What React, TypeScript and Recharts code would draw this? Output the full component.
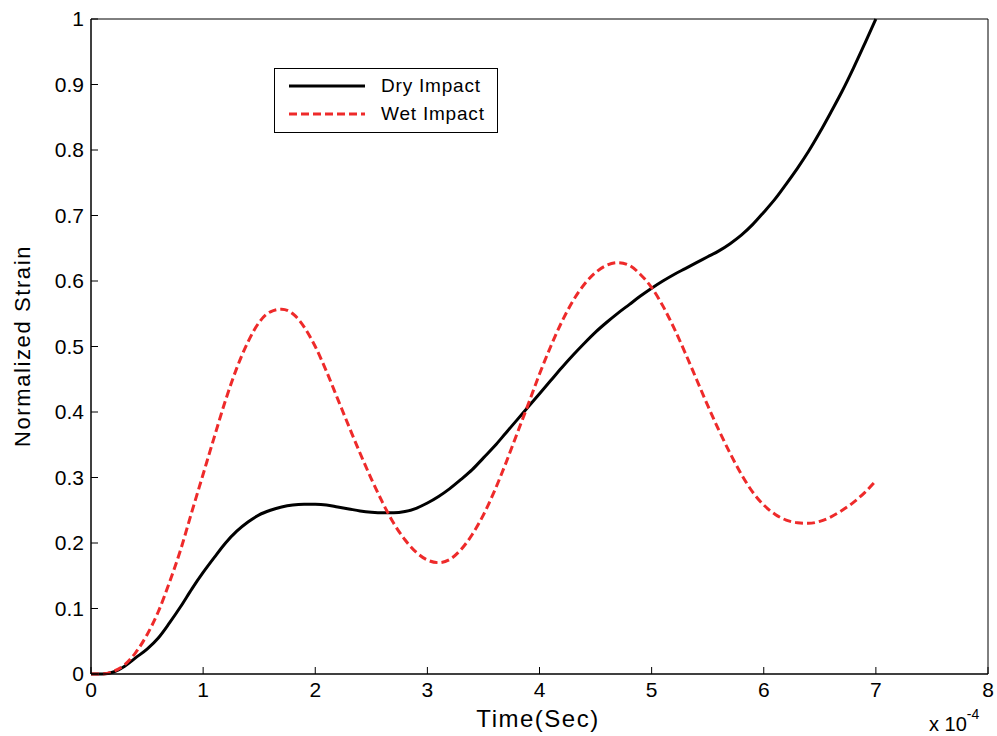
import React from 'react';
import { LineChart, Line, XAxis, YAxis } from 'recharts';

const timeSteps = [
  0, 0.1, 0.2, 0.3, 0.4, 0.5, 0.6, 0.7, 0.8, 0.9,
  1, 1.1, 1.2, 1.3, 1.4, 1.5, 1.6, 1.7, 1.8, 1.9,
  2, 2.1, 2.2, 2.3, 2.4, 2.5, 2.6, 2.7, 2.8, 2.9,
  3, 3.1, 3.2, 3.3, 3.4, 3.5, 3.6, 3.7, 3.8, 3.9,
  4, 4.1, 4.2, 4.3, 4.4, 4.5, 4.6, 4.7, 4.8, 4.9,
  5, 5.1, 5.2, 5.3, 5.4, 5.5, 5.6, 5.7, 5.8, 5.9,
  6, 6.1, 6.2, 6.3, 6.4, 6.5, 6.6, 6.7, 6.8, 6.9,
  7,
];

const dryImpact = [
  0, 0, 0.003, 0.012, 0.025, 0.038, 0.055, 0.078, 0.103, 0.13,
  0.155, 0.178, 0.2, 0.218, 0.232, 0.243, 0.25, 0.255, 0.258, 0.259,
  0.259, 0.258, 0.255, 0.252, 0.249, 0.247, 0.246, 0.246, 0.248, 0.253,
  0.261, 0.271, 0.283, 0.297, 0.312, 0.33, 0.348, 0.368, 0.388, 0.408,
  0.428, 0.448, 0.468, 0.487, 0.505, 0.522, 0.537, 0.551, 0.564, 0.577,
  0.589, 0.6, 0.61, 0.619, 0.628, 0.637, 0.646, 0.657, 0.67, 0.686,
  0.705, 0.725, 0.748, 0.772, 0.798, 0.827, 0.858, 0.89, 0.925, 0.962,
  1.0,
];

const wetImpact = [
  0, 0, 0.004, 0.014, 0.033, 0.06, 0.095, 0.14, 0.19, 0.248,
  0.305, 0.362, 0.418, 0.467, 0.507, 0.537, 0.553, 0.557, 0.55, 0.53,
  0.5, 0.462, 0.42, 0.378, 0.337, 0.298, 0.262, 0.23, 0.205, 0.186,
  0.174, 0.17, 0.175, 0.19, 0.213, 0.243, 0.28, 0.322, 0.367, 0.412,
  0.458, 0.5, 0.538, 0.57, 0.595, 0.613, 0.624, 0.628, 0.624, 0.61,
  0.59, 0.562, 0.528, 0.49, 0.45, 0.41, 0.372, 0.337, 0.305, 0.278,
  0.258, 0.244, 0.235, 0.231, 0.23, 0.233, 0.24, 0.25, 0.262, 0.277,
  0.295,
];

const xTicks = [0, 1, 2, 3, 4, 5, 6, 7, 8];
const yTicks = [0, 0.1, 0.2, 0.3, 0.4, 0.5, 0.6, 0.7, 0.8, 0.9, 1];

const data = timeSteps.map((t, i) => ({ t, dry: dryImpact[i], wet: wetImpact[i] }));

const FONT = '"Liberation Sans", Arial, sans-serif';
const RED = '#ee2a2a';

const fmt = (v: number) => String(Math.round(v * 10) / 10);

const legendItems = [
  { name: 'Dry Impact', color: '#000', dash: undefined as string | undefined },
  { name: 'Wet Impact', color: RED, dash: '8 4' },
];

const LegendBox = () => (
  <div
    style={{
      position: 'absolute',
      left: 274,
      top: 68,
      width: 224,
      height: 65,
      border: '1px solid #000',
      background: '#fff',
      boxSizing: 'border-box',
      fontFamily: FONT,
      fontSize: 19,
      letterSpacing: 0.8,
      color: '#000',
      paddingTop: 3,
    }}
  >
    {legendItems.map((item) => (
      <div key={item.name} style={{ display: 'flex', alignItems: 'center', height: 28 }}>
        <svg width={92} height={10} style={{ marginLeft: 14 }}>
          <line x1={0} y1={5} x2={76} y2={5} stroke={item.color} strokeWidth={3} strokeDasharray={item.dash} />
        </svg>
        <span>{item.name}</span>
      </div>
    ))}
  </div>
);

const tickStyle = { fill: '#000', fontSize: 21, fontFamily: FONT };

export default function App() {
  return (
    <div style={{ position: 'absolute', left: 0, top: 0, width: 997, height: 736, background: '#fff' }}>
      <LineChart
        width={997}
        height={736}
        data={data}
        margin={{ top: 18, right: 8, bottom: 32, left: 31 }}
      >
        <XAxis
          dataKey="t"
          type="number"
          domain={[0, 8]}
          ticks={xTicks}
          allowDataOverflow
          height={30}
          stroke="#000"
          tickSize={-7}
          tickMargin={15}
          tick={tickStyle}
          axisLine={{ stroke: '#000', strokeWidth: 1.5 }}
        />
        <XAxis
          xAxisId="top"
          dataKey="t"
          type="number"
          orientation="top"
          domain={[0, 8]}
          ticks={xTicks}
          height={1}
          stroke="#000"
          tickSize={-7}
          tick={false}
        />
        <YAxis
          type="number"
          domain={[0, 1]}
          ticks={yTicks}
          tickFormatter={fmt}
          width={60}
          stroke="#000"
          tickSize={-7}
          tickMargin={14}
          tick={tickStyle}
          axisLine={{ stroke: '#000', strokeWidth: 1.5 }}
        />
        <YAxis
          yAxisId="right"
          orientation="right"
          type="number"
          domain={[0, 1]}
          ticks={yTicks}
          width={1}
          stroke="#000"
          tickSize={-7}
          tick={false}
        />
        <Line
          type="monotone"
          dataKey="dry"
          name="Dry Impact"
          stroke="#000"
          strokeWidth={3}
          dot={false}
          isAnimationActive={false}
        />
        <Line
          type="monotone"
          dataKey="wet"
          name="Wet Impact"
          stroke={RED}
          strokeWidth={3}
          strokeDasharray="8 4"
          dot={false}
          isAnimationActive={false}
        />
      </LineChart>
      <LegendBox />
      <div
        style={{
          position: 'absolute',
          left: 538,
          top: 705,
          transform: 'translateX(-50%)',
          fontFamily: FONT,
          fontSize: 24,
          letterSpacing: 1.5,
          color: '#000',
          whiteSpace: 'nowrap',
        }}
      >
        Time(Sec)
      </div>
      <div
        style={{
          position: 'absolute',
          left: 23,
          top: 346,
          transform: 'translate(-50%, -50%) rotate(-90deg)',
          fontFamily: FONT,
          fontSize: 22,
          letterSpacing: 1.6,
          color: '#000',
          whiteSpace: 'nowrap',
        }}
      >
        Normalized Strain
      </div>
      <div
        style={{
          position: 'absolute',
          left: 929,
          top: 713,
          fontFamily: FONT,
          fontSize: 20,
          color: '#000',
          whiteSpace: 'nowrap',
        }}
      >
        x 10<sup style={{ fontSize: 14, verticalAlign: 'top', position: 'relative', top: -7 }}>-4</sup>
      </div>
    </div>
  );
}
